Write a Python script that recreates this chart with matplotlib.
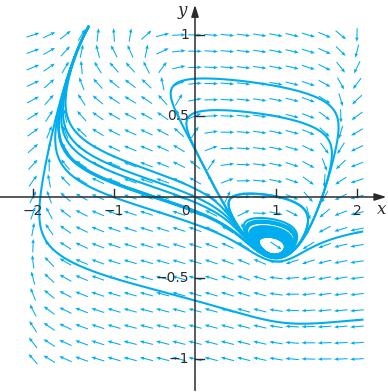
import numpy as np
import matplotlib
matplotlib.use("Agg")
import matplotlib.pyplot as plt

# FitzHugh-Nagumo: x' = 3(x + y - x^3/3 - k), y' = -(x + 0.8y - 0.7)/3
k = 0.3465

# direction field grid
grid_x = np.linspace(-2, 2, 21)
grid_y = np.linspace(-1, 1, 21)

# starting points of the drawn solutions (forward and backward in time)
start_x = [2.0, 2.0, 0.0, 0.0, -1.0, -1.0, -1.0, -1.0, 0.6]
start_y = [-0.76, -0.22, 0.73, 0.52, 0.25, 0.19, 0.15, 0.09, 0.02]

x_ticks = [-2, -1, 1, 2]
x_tick_labels = ["\u22122", "\u22121", "1", "2"]
y_ticks = [1, 0.5, -0.5, -1]
y_tick_labels = ["1", "0.5", "\u22120.5", "\u22121"]

cyan = "#00aeef"
ink = "#2b2b2b"

def field(x, y):
    return 3 * (x + y - x**3 / 3 - k), -(x + 0.8 * y - 0.7) / 3

def solve(x0, y0, sign, t_max=60, dt=0.004):
    xs, ys = [x0], [y0]
    x, y = x0, y0
    for i in range(int(t_max / dt)):
        k1 = field(x, y)
        k2 = field(x + sign * dt / 2 * k1[0], y + sign * dt / 2 * k1[1])
        k3 = field(x + sign * dt / 2 * k2[0], y + sign * dt / 2 * k2[1])
        k4 = field(x + sign * dt * k3[0], y + sign * dt * k3[1])
        x = x + sign * dt / 6 * (k1[0] + 2 * k2[0] + 2 * k3[0] + k4[0])
        y = y + sign * dt / 6 * (k1[1] + 2 * k2[1] + 2 * k3[1] + k4[1])
        xs.append(x)
        ys.append(y)
        if x < -2.1 or x > 2.06 or y < -1.1 or y > 1.05:
            break
    return np.array(xs), np.array(ys)

fig = plt.figure(figsize=(3.88, 3.92), dpi=100)
ax = fig.add_axes([0, 0, 1, 1])
ax.set_xlim(-195 / 81, 193 / 81)
ax.set_ylim(-195 / 162, 197 / 162)
ax.axis("off")

# pixels per data unit, to keep arrows the same length on screen
sx, sy = 81, 162
X, Y = np.meshgrid(grid_x, grid_y)
U, V = field(X, Y)
U, V = U * sx, V * sy
norm = np.hypot(U, V)
L = 13.5
U = U / norm * L / sx
V = V / norm * L / sy
ax.quiver(X - U / 2, Y - V / 2, U, V, angles="xy", scale_units="xy", scale=1,
          color=cyan, width=0.0027, headwidth=3.4, headlength=4.2,
          headaxislength=3.8, zorder=2)

for x0, y0 in zip(start_x, start_y):
    for sign in (1, -1):
        xs, ys = solve(x0, y0, sign)
        ax.plot(xs, ys, color=cyan, lw=1.5, zorder=3)

# axes through the origin
ax.annotate("", xy=(193 / 81 - 0.02, 0), xytext=(-195 / 81, 0),
            arrowprops=dict(arrowstyle="-|>,head_length=0.7,head_width=0.22",
                            color=ink, lw=1.1, shrinkA=0, shrinkB=0), zorder=4)
ax.annotate("", xy=(0, 197 / 162 - 0.03), xytext=(0, -195 / 162 + 0.01),
            arrowprops=dict(arrowstyle="-|>,head_length=0.7,head_width=0.22",
                            color=ink, lw=1.1, shrinkA=0, shrinkB=0), zorder=4)

for t, lab in zip(x_ticks, x_tick_labels):
    ax.plot([t, t], [0, 0.05], color=ink, lw=1.0, zorder=4)
    ax.text(t, -0.045, lab, ha="center", va="top", fontsize=10, color=ink)
ax.text(-0.12, -0.045, "0", ha="center", va="top", fontsize=10, color=ink)

for t, lab in zip(y_ticks, y_tick_labels):
    ax.plot([0, 0.11], [t, t], color=ink, lw=1.0, zorder=4)
    ax.text(-0.07, t, lab, ha="right", va="center", fontsize=10, color=ink)

ax.text(2.31, -0.08, "x", ha="center", va="center", fontsize=12,
        style="italic", family="DejaVu Serif", color=ink)
ax.text(-0.16, 1.15, "y", ha="center", va="center", fontsize=12,
        style="italic", family="DejaVu Serif", color=ink)

fig.savefig("out.png", dpi=100)
